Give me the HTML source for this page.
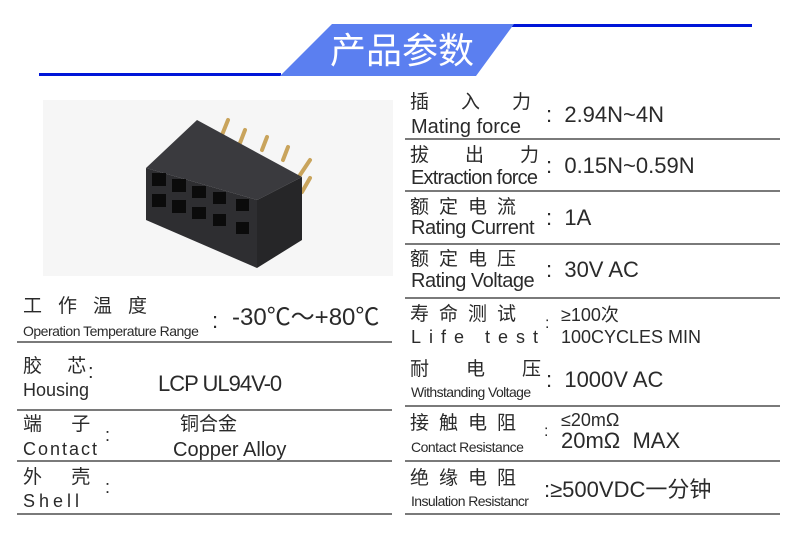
<!DOCTYPE html>
<html><head><meta charset="utf-8"><style>
body{margin:0;width:790px;height:553px;background:#fff;position:relative;overflow:hidden;font-family:"Liberation Sans","Noto Sans CJK SC",sans-serif;color:#2a2a2a}
.a{position:absolute;white-space:nowrap;line-height:1}
.ln{position:absolute;height:2px;background:#7a7a7a}
.cn{font-size:19px;letter-spacing:0}
.en{font-size:18px}
.v{font-size:22px}
</style></head><body>
<svg width="790" height="553" style="position:absolute;left:0;top:0">
<rect x="39" y="73" width="242" height="3" fill="#0015d8"/>
<rect x="512" y="24" width="240" height="3" fill="#0015d8"/>
<polygon points="332,24 514,24 476,76 280,76" fill="#5b7ff0"/>
<rect x="43" y="100" width="350" height="176" fill="#f6f6f6"/>
<g stroke="#c9a45c" stroke-width="4" stroke-linecap="round">
<line x1="222" y1="135" x2="228" y2="120"/>
<line x1="240" y1="143" x2="245" y2="130"/>
<line x1="262" y1="150" x2="267" y2="137"/>
<line x1="283" y1="160" x2="288" y2="147"/>
<line x1="300" y1="175" x2="310" y2="160"/>
<line x1="302" y1="192" x2="310" y2="178"/>
</g>
<polygon points="146,168 197,120 302,177 257,200" fill="#3a3a3e"/>
<polygon points="146,168 257,200 257,268 146,220" fill="#2e2e31"/>
<polygon points="257,200 302,177 302,240 257,268" fill="#262628"/>
<g fill="#0b0b0b">
<rect x="152" y="173" width="14" height="13"/><rect x="172" y="179" width="14" height="13"/><rect x="192" y="186" width="14" height="12"/><rect x="213" y="192" width="13" height="12"/><rect x="236" y="199" width="13" height="12"/>
<rect x="152" y="194" width="14" height="13"/><rect x="172" y="200" width="14" height="13"/><rect x="192" y="207" width="14" height="12"/><rect x="213" y="214" width="13" height="12"/><rect x="236" y="222" width="13" height="12"/>
</g>
</svg>
<div class="a" style="left:330px;top:30px;font-size:36px;color:#fff;font-family:'Noto Sans CJK SC',sans-serif">产品参数</div>

<!-- left table -->
<div class="a cn" style="left:23px;top:297px;letter-spacing:16px">工作温度</div>
<div class="a" style="left:23px;top:324px;font-size:14px;letter-spacing:-0.5px">Operation Temperature Range</div>
<div class="a" style="left:212px;top:310px;font-size:22px">:</div>
<div class="a" style="left:232px;top:306px;font-size:24px">-30℃～+80℃</div>
<div class="ln" style="left:17px;top:341px;width:375px"></div>
<div class="a cn" style="left:23px;top:357px;letter-spacing:10px">胶 芯</div>
<div class="a en" style="left:23px;top:381px">Housing</div>
<div class="a" style="left:88px;top:362px;font-size:20px">:</div>
<div class="a v" style="left:158px;top:373px;letter-spacing:-1px;font-size:22px">LCP UL94V-0</div>
<div class="ln" style="left:17px;top:409px;width:375px"></div>
<div class="a cn" style="left:23px;top:415px;letter-spacing:12px">端 子</div>
<div class="a en" style="left:23px;top:440px;letter-spacing:2px">Contact</div>
<div class="a" style="left:105px;top:426px;font-size:18px">:</div>
<div class="a cn" style="left:180px;top:415px">铜合金</div>
<div class="a en" style="left:173px;top:440px;font-size:20px">Copper Alloy</div>
<div class="ln" style="left:17px;top:460px;width:375px"></div>
<div class="a cn" style="left:23px;top:468px;letter-spacing:12px">外 壳</div>
<div class="a en" style="left:23px;top:492px;letter-spacing:4px">Shell</div>
<div class="a" style="left:105px;top:478px;font-size:18px">:</div>
<div class="ln" style="left:17px;top:513px;width:375px"></div>

<!-- right table -->
<div class="a cn" style="left:410px;top:93px"><span>插</span><span style="margin-left:32px">入</span><span style="margin-left:32px">力</span></div>
<div class="a en" style="left:411px;top:117px;font-size:20px">Mating force</div>
<div class="a v" style="left:546px;top:104px">:&nbsp;&nbsp;2.94N~4N</div>
<div class="ln" style="left:405px;top:138px;width:375px"></div>
<div class="a cn" style="left:410px;top:146px"><span>拔</span><span style="margin-left:36px">出</span><span style="margin-left:36px">力</span></div>
<div class="a en" style="left:411px;top:168px;letter-spacing:-0.8px;font-size:20px">Extraction force</div>
<div class="a v" style="left:546px;top:155px">:&nbsp;&nbsp;0.15N~0.59N</div>
<div class="ln" style="left:405px;top:190px;width:375px"></div>
<div class="a cn" style="left:410px;top:198px;letter-spacing:10px">额定电流</div>
<div class="a en" style="left:411px;top:218px;letter-spacing:-0.5px;font-size:20px">Rating Current</div>
<div class="a v" style="left:546px;top:207px">:&nbsp;&nbsp;1A</div>
<div class="ln" style="left:405px;top:243px;width:375px"></div>
<div class="a cn" style="left:410px;top:250px;letter-spacing:10px">额定电压</div>
<div class="a en" style="left:411px;top:271px;letter-spacing:-0.5px;font-size:20px">Rating Voltage</div>
<div class="a v" style="left:546px;top:259px">:&nbsp;&nbsp;30V AC</div>
<div class="ln" style="left:405px;top:297px;width:375px"></div>
<div class="a cn" style="left:410px;top:305px;letter-spacing:10px">寿命测试</div>
<div class="a en" style="left:411px;top:328px;letter-spacing:8px">Life test</div>
<div class="a" style="left:545px;top:316px;font-size:16px">:</div>
<div class="a" style="left:561px;top:306px;font-size:18px">≥100次</div>
<div class="a" style="left:561px;top:328px;font-size:18px">100CYCLES MIN</div>
<div class="ln" style="left:405px;top:405px;width:375px"></div>
<div class="a cn" style="left:410px;top:360px"><span>耐</span><span style="margin-left:37px">电</span><span style="margin-left:37px">压</span></div>
<div class="a" style="left:411px;top:385px;font-size:14px;letter-spacing:-0.6px">Withstanding Voltage</div>
<div class="a v" style="left:546px;top:369px">:&nbsp;&nbsp;1000V AC</div>
<div class="a cn" style="left:410px;top:414px;letter-spacing:10px">接触电阻</div>
<div class="a" style="left:411px;top:440px;font-size:14px;letter-spacing:-0.5px">Contact Resistance</div>
<div class="a" style="left:544px;top:424px;font-size:16px">:</div>
<div class="a" style="left:561px;top:411px;font-size:18px">≤20mΩ</div>
<div class="a v" style="left:561px;top:430px">20mΩ&nbsp; MAX</div>
<div class="ln" style="left:405px;top:460px;width:375px"></div>
<div class="a cn" style="left:410px;top:469px;letter-spacing:10px">绝缘电阻</div>
<div class="a" style="left:411px;top:494px;font-size:14px;letter-spacing:-0.6px">Insulation Resistancr</div>
<div class="a v" style="left:544px;top:479px;font-size:22px">:≥500VDC一分钟</div>
<div class="ln" style="left:405px;top:513px;width:375px"></div>
</body></html>
